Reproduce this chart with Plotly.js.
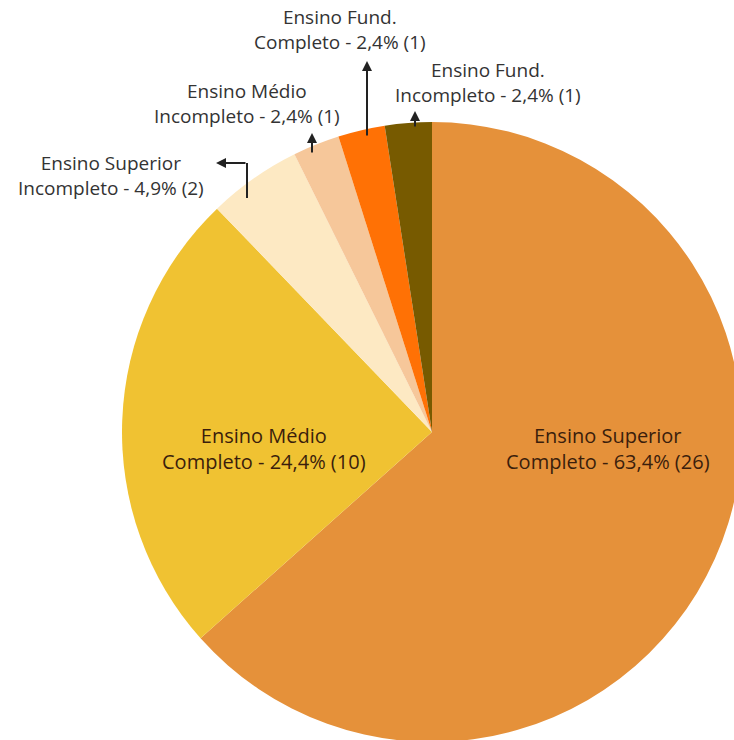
<!DOCTYPE html>
<html>
<head>
<meta charset="utf-8">
<script src="https://cdn.plot.ly/plotly-3.0.1.min.js"></script>
<style>
html,body{margin:0;padding:0;width:734px;height:740px;overflow:hidden;background:#fff;}
#chart{width:864px;height:864px;}
</style>
</head>
<body>
<div id="chart"></div>
<script>
// Data
const labels = ["Ensino Superior Completo","Ensino Médio Completo","Ensino Superior Incompleto","Ensino Médio Incompleto","Ensino Fund. Completo","Ensino Fund. Incompleto"];
const line1 = ["Ensino Superior","Ensino Médio","Ensino Superior","Ensino Médio","Ensino Fund.","Ensino Fund."];
const line2 = ["Completo","Completo","Incompleto","Incompleto","Completo","Incompleto"];
const counts = [26, 10, 2, 1, 1, 1];
const colors = ["#E5913A","#F0C232","#FDE9C3","#F6C79A","#FF7105","#775A00"];

const W = 864, H = 864;
const px = x => x / W;
const py = y => 1 - y / H;
const total = counts.reduce((a,b)=>a+b,0);
const pct = counts.map(c => (c/total*100).toFixed(1).replace('.', ','));
const txt = labels.map((l,i) => line1[i] + "<br>" + line2[i] + " - " + pct[i] + "% (" + counts[i] + ")");

const trace = {
  type: "pie",
  labels: labels,
  values: counts,
  marker: {colors: colors, line: {width: 0}},
  sort: false,
  direction: "clockwise",
  rotation: 0,
  textinfo: "none",
  hoverinfo: "label+value+percent",
  domain: {x: [(432-310)/W, (432+310)/W], y: [1-(432+310)/H, 1-(432-310)/H]},
  showlegend: false
};

// label centres (pixel coords in the div)
const pos = [[608, 448], [264, 448], [111, 175], [247, 104], [340, 30], [488, 83]];
const annotations = [];
const fam = "'Open Sans', sans-serif";
pos.forEach((p, i) => {
  const inside = i < 2;
  const font = {family: fam, size: inside ? 20 : 19, color: inside ? "#3B1E0C" : "#333333"};
  annotations.push({x: px(p[0]), y: py(p[1]), xref: "paper", yref: "paper", xanchor: "center", yanchor: "middle",
    align: "center", text: txt[i], showarrow: false, font: font});
});
// arrows: [headX, headY, tailX, tailY]
const arrows = [[216, 163, 247, 163], [312, 133, 312, 154], [367, 61, 367, 137], [415, 111, 415, 128]];
arrows.forEach(a => {
  annotations.push({x: px(a[0]), y: py(a[1]), xref: "paper", yref: "paper", text: "", showarrow: true,
    ax: a[2]-a[0], ay: a[3]-a[1], arrowhead: 2, arrowsize: 1, arrowwidth: 2, arrowcolor: "#222222", standoff: 0});
});
const shapes = [{type: "line", xref: "paper", yref: "paper", x0: px(247), y0: py(163), x1: px(247), y1: py(198), line: {color: "#222222", width: 2}}];

const layout = {
  width: W, height: H,
  margin: {l: 0, r: 0, t: 0, b: 0},
  paper_bgcolor: "#ffffff",
  annotations: annotations,
  shapes: shapes
};
Plotly.newPlot("chart", [trace], layout, {displayModeBar: false, staticPlot: true});
</script>
</body>
</html>
